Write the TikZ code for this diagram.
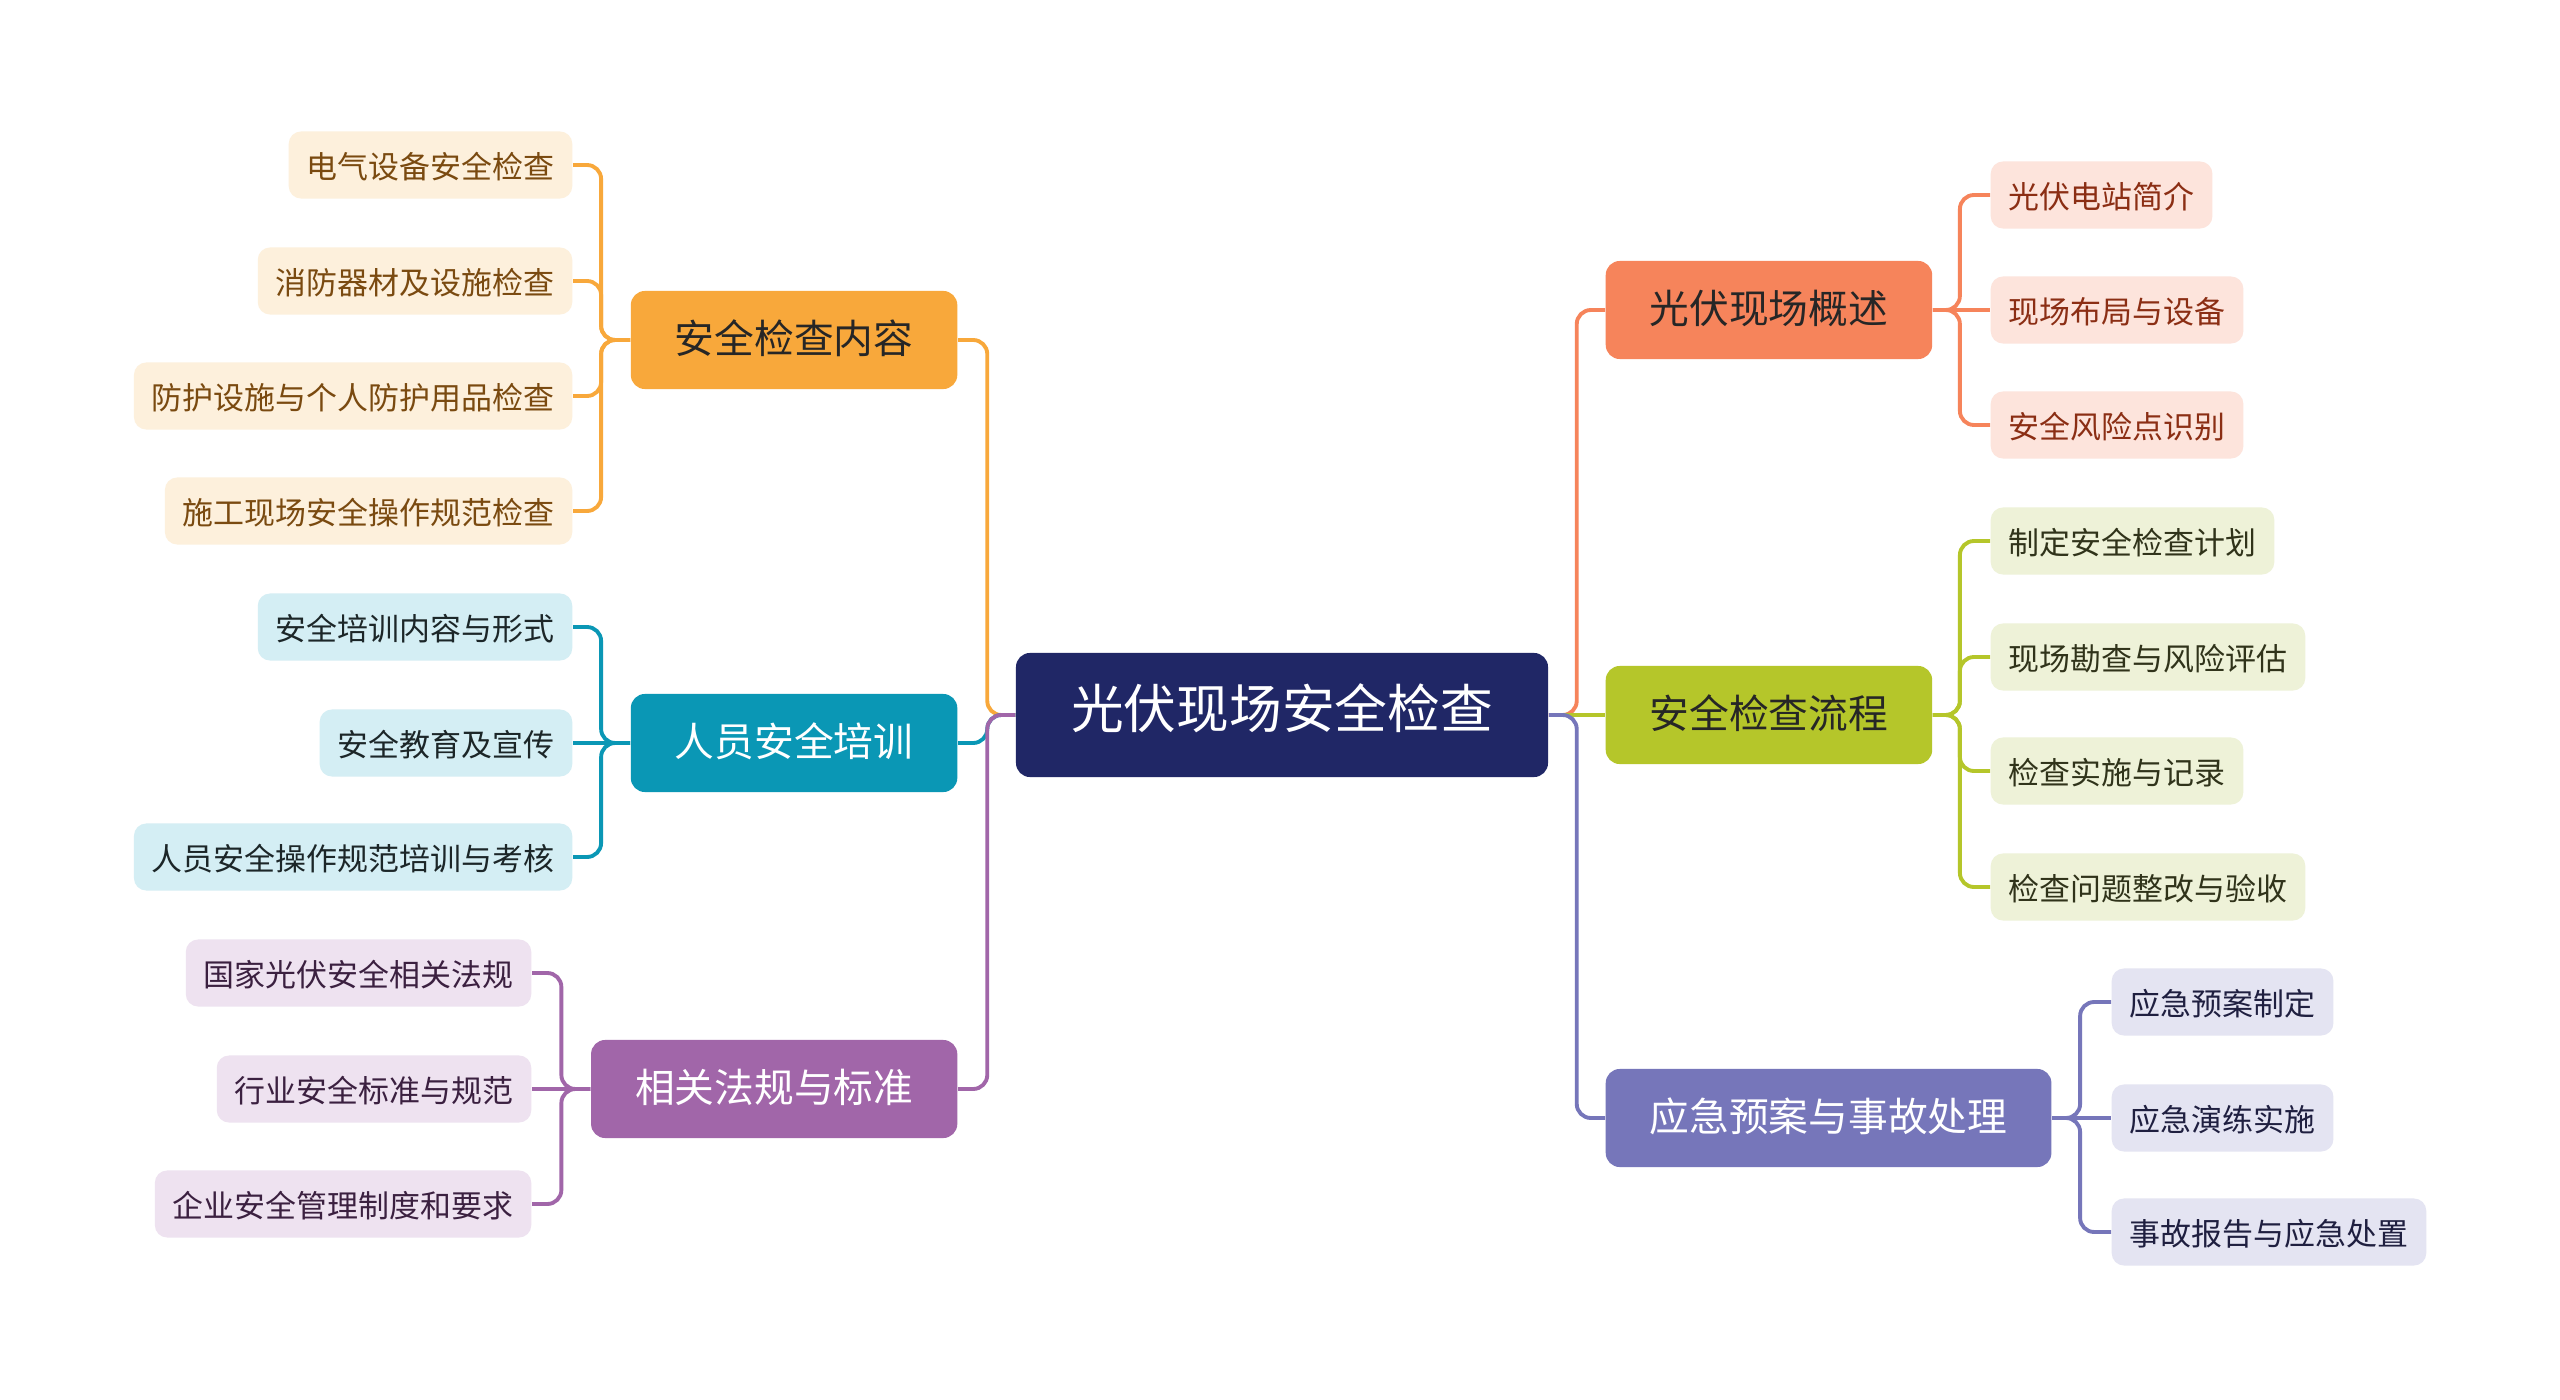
\documentclass[tikz,border=0pt]{standalone}
\usepackage{fontspec}
\setmainfont{Noto Sans CJK SC}
\usepackage{tikz}
\usepackage{xcolor}

\definecolor{rootc}{HTML}{202766}
\definecolor{orgc}{HTML}{F8A83B}
\definecolor{orgl}{HTML}{FDF0DC}
\definecolor{orgd}{HTML}{7A4A10}
\definecolor{tealc}{HTML}{0A97B5}
\definecolor{teall}{HTML}{D4EEF4}
\definecolor{teald}{HTML}{1C2628}
\definecolor{purc}{HTML}{A166A9}
\definecolor{purl}{HTML}{EEE2F0}
\definecolor{purd}{HTML}{3B2040}
\definecolor{redc}{HTML}{F6845B}
\definecolor{redl}{HTML}{FDE4DC}
\definecolor{redd}{HTML}{8B2E14}
\definecolor{grnc}{HTML}{B5C62A}
\definecolor{grnl}{HTML}{EEF2D8}
\definecolor{grnd}{HTML}{30331A}
\definecolor{bluc}{HTML}{7676BA}
\definecolor{blul}{HTML}{E4E4F2}
\definecolor{blud}{HTML}{1F1F40}

\tikzset{
	box/.style={rounded corners=4pt,text height=0.86em,text depth=0.1em,align=center},
	rootbox/.style={box,fill=rootc,text=white,font=\fontsize{15}{18}\selectfont,minimum height=1.24cm,inner xsep=0.55cm},
	mainbox/.style={box,font=\fontsize{11.3}{14}\selectfont,minimum height=0.98cm,inner xsep=0.44cm},
	leafbox/.style={box,rounded corners=3.5pt,font=\fontsize{8.8}{11}\selectfont,minimum height=0.67cm,inner xsep=0.18cm},
	link/.style={line width=1.1pt,rounded corners=4pt}
}

\begin{document}
\begin{tikzpicture}[x=0.01cm,y=-0.01cm]
	\fill[white] (0,0) rectangle (2560,1400);
	\useasboundingbox (0,0) rectangle (2560,1400);
	\node[rootbox] (root) at (1282,715) {光伏现场安全检查};
	% left branches
	\node[mainbox,fill=orgc,text=black!85,anchor=east] (content) at (958,340) {安全检查内容};
	\node[mainbox,fill=tealc,text=white,anchor=east] (train) at (958,743) {人员安全培训};
	\node[mainbox,fill=purc,text=white,anchor=east] (law) at (958,1089) {相关法规与标准};
	\draw[link,orgc] (root.west)--++(-28,0)|-(content.east);
	\draw[link,tealc] (root.west)--++(-28,0)|-(train.east);
	\draw[link,purc] (root.west)--++(-28,0)|-(law.east);
	\foreach \n/\y/\txt in {1/165/电气设备安全检查,2/281/消防器材及设施检查,3/396/防护设施与个人防护用品检查,4/511/施工现场安全操作规范检查}{
		\node[leafbox,fill=orgl,text=orgd,anchor=east] (content\n) at (573,\y) {\txt};
		\draw[link,orgc] (content.west)--++(-29,0)|-(content\n.east);
	}
	\foreach \n/\y/\txt in {1/627/安全培训内容与形式,2/743/安全教育及宣传,3/857/人员安全操作规范培训与考核}{
		\node[leafbox,fill=teall,text=teald,anchor=east] (train\n) at (573,\y) {\txt};
		\ifnum\n=2 \draw[link,tealc] (train.west)--(train\n.east);
		\else \draw[link,tealc] (train.west)--++(-29,0)|-(train\n.east); \fi
	}
	\foreach \n/\y/\txt in {1/973/国家光伏安全相关法规,2/1089/行业安全标准与规范,3/1204/企业安全管理制度和要求}{
		\node[leafbox,fill=purl,text=purd,anchor=east] (law\n) at (532,\y) {\txt};
		\ifnum\n=2 \draw[link,purc] (law.west)--(law\n.east);
		\else \draw[link,purc] (law.west)--++(-29,0)|-(law\n.east); \fi
	}
	% right branches
	\node[mainbox,fill=redc,text=black!85,anchor=west] (scene) at (1605,310) {光伏现场概述};
	\node[mainbox,fill=grnc,text=black!85,anchor=west] (flow) at (1605,715) {安全检查流程};
	\node[mainbox,fill=bluc,text=white,anchor=west] (plan) at (1605,1118) {应急预案与事故处理};
	\draw[link,redc] (root.east)--++(28,0)|-(scene.west);
	\draw[link,grnc] (root.east)--(flow.west);
	\draw[link,bluc] (root.east)--++(28,0)|-(plan.west);
	\foreach \n/\y/\txt in {1/195/光伏电站简介,2/310/现场布局与设备,3/425/安全风险点识别}{
		\node[leafbox,fill=redl,text=redd,anchor=west] (scene\n) at (1990,\y) {\txt};
		\ifnum\n=2 \draw[link,redc] (scene.east)--(scene\n.west);
		\else \draw[link,redc] (scene.east)--++(27,0)|-(scene\n.west); \fi
	}
	\foreach \n/\y/\txt in {1/541/制定安全检查计划,2/657/现场勘查与风险评估,3/771/检查实施与记录,4/887/检查问题整改与验收}{
		\node[leafbox,fill=grnl,text=grnd,anchor=west] (flow\n) at (1990,\y) {\txt};
		\draw[link,grnc] (flow.east)--++(27,0)|-(flow\n.west);
	}
	\foreach \n/\y/\txt in {1/1002/应急预案制定,2/1118/应急演练实施,3/1232/事故报告与应急处置}{
		\node[leafbox,fill=blul,text=blud,anchor=west] (plan\n) at (2111,\y) {\txt};
		\ifnum\n=2 \draw[link,bluc] (plan.east)--(plan\n.west);
		\else \draw[link,bluc] (plan.east)--++(28,0)|-(plan\n.west); \fi
	}
\end{tikzpicture}
\end{document}
